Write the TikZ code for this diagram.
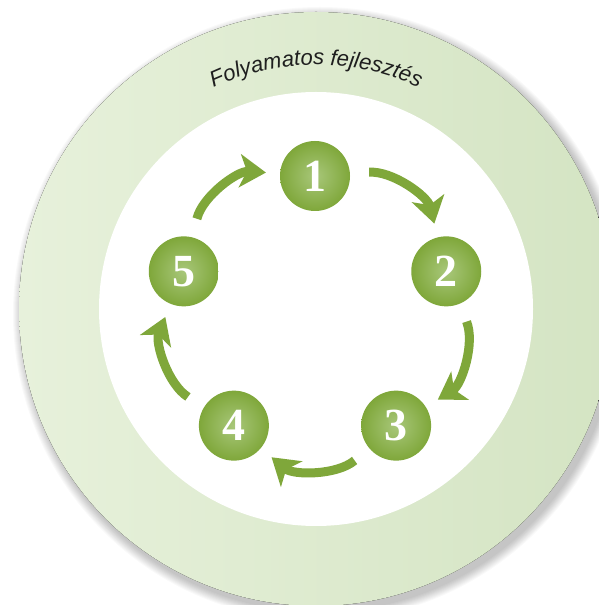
\documentclass[tikz,border=0pt]{standalone}
\usepackage{fontspec}
\usetikzlibrary{arrows.meta}
\usetikzlibrary{decorations.text}
\newfontfamily\digitfont{Liberation Serif}
\newfontfamily\ringfont{Liberation Sans}
\definecolor{ringleft}{HTML}{E7F1DB}
\definecolor{ringright}{HTML}{D4E4C3}
\definecolor{stepgreen}{HTML}{7FA73A}
\definecolor{steplight}{HTML}{A8C77A}
\definecolor{ringtext}{HTML}{1E1E1E}
\pgfdeclareradialshading{stepball}{\pgfpoint{0bp}{0bp}}{color(0bp)=(steplight); color(25bp)=(stepgreen); color(50bp)=(stepgreen)}
\tikzstyle{stepnode}=[circle, minimum size=70pt, inner sep=0pt, shading=stepball, text=white,
  font=\digitfont\bfseries\fontsize{46pt}{46pt}\selectfont]
\tikzstyle{flow}=[draw=stepgreen, line width=9pt, shorten <=19pt, shorten >=14pt, bend left=40,
  -{Stealth[length=26pt, width=33pt, inset=7pt]}]

\begin{document}
\begin{tikzpicture}[x=1pt, y=1pt]
          \useasboundingbox (0,0) rectangle (599,605);
          \clip (0,0) rectangle (599,605);
          \fill[white] (0,0) rectangle (599,605);
          % soft shadow round the ring
          \foreach \k in {1,...,10}
            \fill[black, opacity=0.025] (320,291) circle[radius={297+\k}];
          \fill[left color=ringleft, right color=ringright] (316,296) circle[radius=297];
          \fill[white] (316,296) circle[radius=217];
          \path[decorate, decoration={text along path, text align=center, text color=ringtext,
              text={|\ringfont\itshape\fontsize{22pt}{22pt}\selectfont|Folyamatos fejlesztés}}]
            (316,296) ++(150:244) arc[start angle=150, end angle=30, radius=244];
          \begin{scope}[shift={(315,291)}]
            \foreach \n in {1,...,5}
              \node[stepnode] (n\n) at ({162-72*\n}:138) {\n};
          \end{scope}
          \foreach \a/\b in {1/2, 2/3, 3/4, 4/5, 5/1}
            \draw[flow] (n\a) to (n\b);
        \end{tikzpicture}
\end{document}
